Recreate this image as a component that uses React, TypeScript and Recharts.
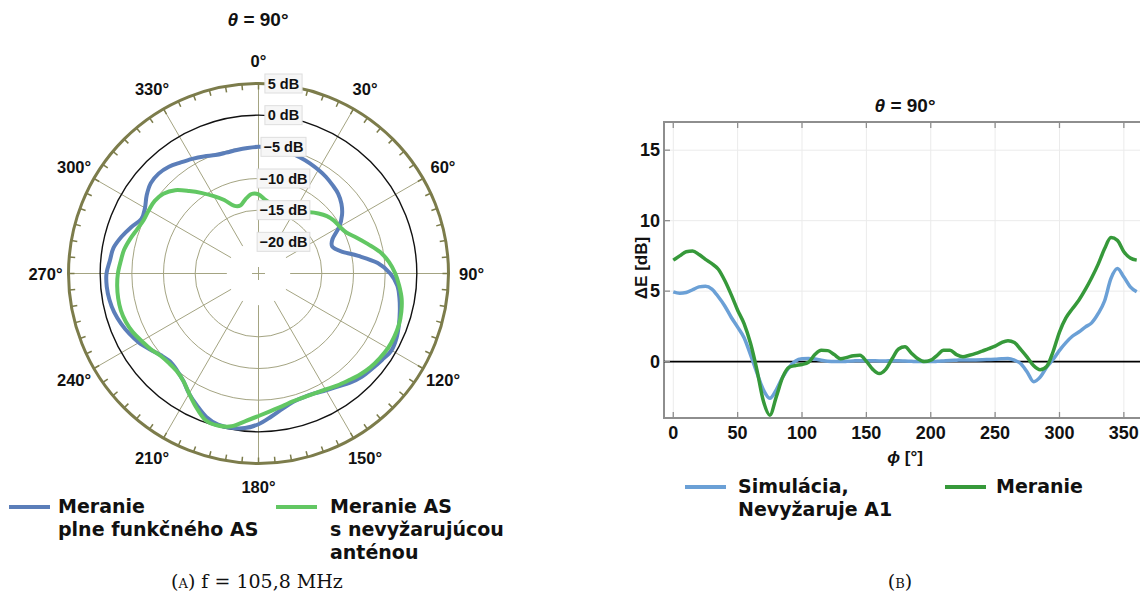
import React from "react";
import {
  RadarChart,
  Radar,
  PolarAngleAxis,
  PolarRadiusAxis,
  Customized,
  LineChart,
  Line,
  XAxis,
  YAxis,
  CartesianGrid,
  ReferenceLine,
  ReferenceArea,
} from "recharts";

// ---- polar chart (A) ----
const ANGLES = [
  0, 5, 10, 15, 20, 25, 30, 35, 40, 45, 50, 55, 60, 65, 70, 75, 80, 85, 90, 95,
  100, 105, 110, 115, 120, 125, 130, 135, 140, 145, 150, 155, 160, 165, 170, 175,
  180, 185, 190, 195, 200, 205, 210, 215, 220, 225, 230, 235, 240, 245, 250, 255,
  260, 265, 270, 275, 280, 285, 290, 295, 300, 305, 310, 315, 320, 325, 330, 335,
  340, 345, 350, 355,
];

// Meranie plne funkčného AS [dB]
const FULL_AS = [
  -5.0, -5.05, -5.15, -5.3, -5.55, -5.8, -6.1, -6.4, -6.8, -7.2,
  -7.9, -8.9, -10.3, -12.1, -12.6, -11.5, -9.0, -6.1, -4.2, -3.0,
  -2.4, -1.9, -1.4, -0.95, -0.75, -1.2, -1.6, -1.95, -2.5, -3.2,
  -3.7, -4.1, -4.2, -4.0, -3.3, -2.3, -1.2, -0.5, -0.25, -0.3,
  -0.9, -2.0, -3.1, -4.3, -5.0, -5.3, -4.9, -4.1, -3.2, -2.5,
  -1.9, -1.4, -1.1, -0.95, -1.0, -1.45, -1.75, -2.6, -3.6, -4.6,
  -4.3, -3.45, -2.8, -2.7, -3.0, -3.6, -4.1, -4.6, -5.1, -5.25,
  -5.2, -5.1,
];

// Meranie AS s nevyžarujúcou anténou [dB]
const NONRAD_AS = [
  -12.5, -13.3, -13.8, -14.15, -14.3, -14.1, -13.8, -13.3, -12.4, -11.6,
  -10.9, -10.45, -10.2, -9.7, -8.5, -7.1, -5.5, -4.3, -3.4, -2.7,
  -2.05, -1.65, -1.4, -1.35, -1.4, -1.65, -1.95, -2.4, -2.95, -3.4,
  -3.85, -4.1, -4.2, -4.1, -3.7, -3.2, -2.5, -1.6, -0.5, -0.15,
  -0.4, -1.7, -3.1, -4.3, -4.9, -5.0, -4.8, -4.2, -3.7, -3.1,
  -2.7, -2.5, -2.5, -2.6, -2.8, -3.15, -3.45, -4.0, -4.6, -5.0,
  -5.0, -5.0, -5.4, -6.4, -8.0, -9.5, -10.9, -12.2, -13.6, -13.9,
  -13.1, -12.4,
];

const DB_TICKS = [-20, -15, -10, -5, 0, 5];

// ---- cartesian chart (B) ----
const PHI = [
  0, 5, 10, 15, 20, 25, 30, 35, 40, 45, 50, 55, 60, 65, 70, 75, 80, 85, 90, 95,
  100, 105, 110, 115, 120, 125, 130, 135, 140, 145, 150, 155, 160, 165, 170, 175,
  180, 185, 190, 195, 200, 205, 210, 215, 220, 225, 230, 235, 240, 245, 250, 255,
  260, 265, 270, 275, 280, 285, 290, 295, 300, 305, 310, 315, 320, 325, 330, 335,
  340, 345, 350, 355, 360,
];

// Simulácia, Nevyžaruje A1
const SIM = [
  4.95, 4.85, 4.9, 5.1, 5.3, 5.35, 5.15, 4.6, 3.95, 3.15,
  2.45, 1.7, 0.5, -0.8, -2.0, -2.6, -2.0, -1.1, -0.4, 0.05,
  0.2, 0.22, 0.18, 0.1, 0.03, 0.0, 0.0, 0.02, 0.05, 0.07,
  0.07, 0.06, 0.05, 0.05, 0.06, 0.06, 0.04, 0.02, 0.0, 0.0,
  0.0, 0.02, 0.05, 0.08, 0.1, 0.12, 0.12, 0.12, 0.13, 0.15,
  0.17, 0.2, 0.22, 0.1, -0.15, -0.75, -1.42, -1.1, -0.4, 0.15,
  0.8, 1.35, 1.8, 2.1, 2.45, 2.75, 3.4, 4.3, 5.9, 6.6,
  6.0, 5.3, 4.95,
];

// Meranie
const MER = [
  7.2, 7.5, 7.8, 7.85, 7.6, 7.25, 6.95, 6.55, 5.75, 4.75,
  3.65, 2.7, 1.3, -0.6, -2.8, -3.8, -2.5, -1.1, -0.4, -0.28,
  -0.2, -0.05, 0.5, 0.8, 0.78, 0.5, 0.2, 0.3, 0.42, 0.45,
  0.02, -0.55, -0.85, -0.55, 0.2, 0.9, 1.05, 0.6, 0.2, 0.0,
  0.1, 0.45, 0.8, 0.8, 0.5, 0.35, 0.45, 0.58, 0.75, 0.92,
  1.1, 1.35, 1.48, 1.35, 0.85, 0.3, -0.3, -0.58, -0.35, 0.7,
  2.1, 3.1, 3.75, 4.35, 5.1, 5.95, 6.9, 8.0, 8.8, 8.6,
  7.8, 7.35, 7.2,
];

const X_TICKS = [0, 50, 100, 150, 200, 250, 300, 350];
const X_MINOR = [
  0, 10, 20, 30, 40, 50, 60, 70, 80, 90, 100, 110, 120, 130, 140, 150, 160, 170,
  180, 190, 200, 210, 220, 230, 240, 250, 260, 270, 280, 290, 300, 310, 320, 330,
  340, 350, 360,
];
const Y_TICKS = [0, 5, 10, 15];
const Y_MINOR = [-4, -3, -2, -1, 0, 1, 2, 3, 4, 5, 6, 7, 8, 9, 10, 11, 12, 13, 14, 15, 16, 17];

const polarData = ANGLES.map((a, i) => ({ angle: a, full: FULL_AS[i], nonrad: NONRAD_AS[i] }));
const lineData = PHI.map((p, i) => ({ phi: p, sim: SIM[i], mer: MER[i] }));

const SANS = "'Liberation Sans', Arial, sans-serif";
const LEGEND_FONT = "'DejaVu Sans', Verdana, sans-serif";
const SERIF = "'DejaVu Serif', 'Liberation Serif', serif";
const OLIVE = "#7c7c4b";
const GRID_OLIVE = "#a4a482";

// polar geometry
const CX = 258.5;
const CY = 273.5;
const R = 190;
const R_MIN = -25;
const R_MAX = 5;
const DEG = Math.PI / 180;
const rOf = (v: number) => ((v - R_MIN) / (R_MAX - R_MIN)) * R;
const pt = (deg: number, r: number) => ({
  x: CX + Math.sin(deg * DEG) * r,
  y: CY - Math.cos(deg * DEG) * r,
});

function PolarFrame() {
  const spokes = [];
  for (let a = 0; a < 360; a += 30) {
    const p1 = pt(a, rOf(-20));
    const p2 = pt(a, R);
    spokes.push(<line key={"s" + a} x1={p1.x} y1={p1.y} x2={p2.x} y2={p2.y} stroke={GRID_OLIVE} strokeWidth={1} />);
  }
  const ticks = [];
  for (let a = 0; a < 360; a += 5) {
    const p1 = pt(a, R - 6);
    const p2 = pt(a, R);
    ticks.push(<line key={"t" + a} x1={p1.x} y1={p1.y} x2={p2.x} y2={p2.y} stroke={OLIVE} strokeWidth={1.5} />);
  }
  return (
    <g>
      {[-15, -10, -5].map((v) => (
        <circle key={v} cx={CX} cy={CY} r={rOf(v)} fill="none" stroke={GRID_OLIVE} strokeWidth={1} />
      ))}
      {spokes}
      <circle cx={CX} cy={CY} r={rOf(0)} fill="none" stroke="#111" strokeWidth={1.4} />
      <circle cx={CX} cy={CY} r={R} fill="none" stroke={OLIVE} strokeWidth={3} />
      {ticks}
      <line x1={CX - 6.5} x2={CX + 6.5} y1={CY} y2={CY} stroke={GRID_OLIVE} strokeWidth={1} />
      <line x1={CX} x2={CX} y1={CY - 6.5} y2={CY + 6.5} stroke={GRID_OLIVE} strokeWidth={1} />
    </g>
  );
}

function AngleTick(props: any) {
  const a = Number(props.payload?.value);
  if (a % 30 !== 0) return <g />;
  const p = pt(a, 213);
  return (
    <text x={p.x} y={p.y} textAnchor="middle" dominantBaseline="central" fontFamily={SANS} fontWeight="bold" fontSize={16.5} fill="#111">
      {a}°
    </text>
  );
}

function DbTick(props: any) {
  const v = Number(props.payload?.value);
  const label = (v < 0 ? "\u2212" + Math.abs(v) : String(v)) + " dB";
  const y = CY - rOf(v);
  const w = label.length * 7.8 + 6;
  const xc = CX + 25;
  return (
    <g>
      <rect x={xc - w / 2} y={y - 9.5} width={w} height={19} fill="#f6f6f6" stroke="#dedede" strokeWidth={1} />
      <text x={xc} y={y} textAnchor="middle" dominantBaseline="central" fontFamily={SANS} fontWeight="bold" fontSize={14.5} fill="#111">
        {label}
      </text>
    </g>
  );
}

// closed Catmull-Rom path through the radar points
function SmoothRadar(props: any) {
  const p = props.points || [];
  const n = p.length;
  if (!n) return <g />;
  let d = `M${p[0].x},${p[0].y}`;
  for (let i = 0; i < n; i++) {
    const p0 = p[(i - 1 + n) % n];
    const p1 = p[i];
    const p2 = p[(i + 1) % n];
    const p3 = p[(i + 2) % n];
    const c1x = p1.x + (p2.x - p0.x) / 6;
    const c1y = p1.y + (p2.y - p0.y) / 6;
    const c2x = p2.x - (p3.x - p1.x) / 6;
    const c2y = p2.y - (p3.y - p1.y) / 6;
    d += ` C${c1x},${c1y} ${c2x},${c2y} ${p2.x},${p2.y}`;
  }
  d += " Z";
  return <path d={d} fill="none" stroke={props.stroke} strokeWidth={props.strokeWidth} strokeLinejoin="round" />;
}

// cartesian layout (chart-local px)
const PL = 64;
const PT = 32;
const PB = 328;
const FRAME = "#8e8e8e";

function XTick(props: any) {
  const { x, payload } = props;
  return (
    <g>
      <line x1={x} x2={x} y1={PB} y2={PB - 6} stroke={FRAME} strokeWidth={1.3} />
      <line x1={x} x2={x} y1={PT} y2={PT + 6} stroke={FRAME} strokeWidth={1.3} />
      <text x={x} y={PB + 21} textAnchor="middle" fontFamily={SANS} fontWeight="bold" fontSize={18} fill="#111">
        {payload.value}
      </text>
    </g>
  );
}

function XMinorTick(props: any) {
  const { x } = props;
  return (
    <g>
      <line x1={x} x2={x} y1={PB} y2={PB - 3.5} stroke={FRAME} strokeWidth={1.1} />
      <line x1={x} x2={x} y1={PT} y2={PT + 3.5} stroke={FRAME} strokeWidth={1.1} />
    </g>
  );
}

function YTick(props: any) {
  const { y, payload } = props;
  return (
    <g>
      <line x1={PL} x2={PL + 6} y1={y} y2={y} stroke={FRAME} strokeWidth={1.3} />
      <text x={PL - 4} y={y} textAnchor="end" dominantBaseline="central" fontFamily={SANS} fontWeight="bold" fontSize={18} fill="#111">
        {payload.value}
      </text>
    </g>
  );
}

function YMinorTick(props: any) {
  const { y } = props;
  return <line x1={PL} x2={PL + 3.5} y1={y} y2={y} stroke={FRAME} strokeWidth={1.1} />;
}

const abs = (left: number, top: number): React.CSSProperties => ({ position: "absolute", left, top });

function LegendLine({ x, y, color }: { x: number; y: number; color: string }) {
  return <div style={{ ...abs(x, y - 2), width: 41, height: 4, background: color }} />;
}

const legendText: React.CSSProperties = {
  fontFamily: LEGEND_FONT,
  fontWeight: "bold",
  fontSize: 19,
  lineHeight: "23px",
  color: "#111",
  whiteSpace: "nowrap",
};

export default function App() {
  return (
    <div style={{ position: "absolute", left: 0, top: 0, width: 1140, height: 597, overflow: "hidden", background: "#fff" }}>
      {/* titles */}
      <div style={{ ...abs(158, 9), width: 200, textAlign: "center", fontFamily: SANS, fontWeight: "bold", fontSize: 19, color: "#111" }}>
        <i>θ</i> = 90°
      </div>
      <div style={{ ...abs(805, 95), width: 200, textAlign: "center", fontFamily: SANS, fontWeight: "bold", fontSize: 19, color: "#111" }}>
        <i>θ</i> = 90°
      </div>

      {/* (A) polar */}
      <div style={abs(0, 0)}>
        <RadarChart width={540} height={520} data={polarData} cx={CX} cy={CY} outerRadius={R} innerRadius={0} startAngle={90} endAngle={-270}>
          <Customized component={<PolarFrame />} />
          <PolarAngleAxis dataKey="angle" axisLine={false} tickLine={false} tick={AngleTick} />
          <PolarRadiusAxis angle={90} type="number" domain={[R_MIN, R_MAX]} ticks={DB_TICKS} axisLine={false} tickLine={false} tick={DbTick} />
          <Radar dataKey="full" stroke="#5b7eb9" strokeWidth={4} fill="none" dot={false} shape={SmoothRadar} isAnimationActive={false} />
          <Radar dataKey="nonrad" stroke="#62c763" strokeWidth={4} fill="none" dot={false} shape={SmoothRadar} isAnimationActive={false} />
        </RadarChart>
      </div>

      {/* (B) cartesian */}
      <div style={abs(600, 90)}>
        <LineChart width={560} height={400} data={lineData} margin={{ top: PT, right: 14, left: 0, bottom: 0 }}>
          <CartesianGrid stroke="#ebebeb" strokeWidth={1} />
          <XAxis dataKey="phi" type="number" domain={[-7.2, 367.2]} ticks={X_TICKS} interval={0} height={72} axisLine={false} tickLine={false} tick={XTick} allowDataOverflow />
          <XAxis xAxisId="m" dataKey="phi" type="number" orientation="top" domain={[-7.2, 367.2]} ticks={X_MINOR} interval={0} height={0} axisLine={false} tickLine={false} tick={XMinorTick} allowDataOverflow />
          <YAxis type="number" domain={[-4, 17]} ticks={Y_TICKS} interval={0} width={PL} axisLine={false} tickLine={false} tick={YTick} allowDataOverflow />
          <YAxis yAxisId="m" type="number" orientation="right" domain={[-4, 17]} ticks={Y_MINOR} interval={0} width={0} axisLine={false} tickLine={false} tick={YMinorTick} allowDataOverflow />
          <ReferenceLine y={0} stroke="#000" strokeWidth={1.6} />
          <Line type="monotone" dataKey="sim" stroke="#6ba0d6" strokeWidth={3.5} dot={false} isAnimationActive={false} />
          <Line type="monotone" dataKey="mer" stroke="#36993a" strokeWidth={3.5} dot={false} isAnimationActive={false} />
          <ReferenceArea x1={-7.2} x2={367.2} y1={-4} y2={17} fill="none" stroke={FRAME} strokeWidth={2} ifOverflow="visible" />
        </LineChart>
      </div>
      <div style={{ ...abs(602, 256), width: 84, height: 24, transform: "rotate(-90deg)", transformOrigin: "center", textAlign: "center", fontFamily: SANS, fontWeight: "bold", fontSize: 17, color: "#111", whiteSpace: "nowrap" }}>
        ΔE [dB]
      </div>
      <div style={{ ...abs(855, 448), width: 100, textAlign: "center", fontFamily: SANS, fontWeight: "bold", fontSize: 17, color: "#111" }}>
        <i>ϕ</i> [°]
      </div>

      {/* legends */}
      <LegendLine x={9} y={507} color="#5b7eb9" />
      <div style={{ ...abs(58, 495), ...legendText }}>
        Meranie
        <br />
        plne funkčného AS
      </div>
      <LegendLine x={276} y={507} color="#62c763" />
      <div style={{ ...abs(330, 495), ...legendText }}>
        Meranie AS
        <br />
        s nevyžarujúcou
        <br />
        anténou
      </div>
      <LegendLine x={685} y={487} color="#6ba0d6" />
      <div style={{ ...abs(738, 475), ...legendText }}>
        Simulácia,
        <br />
        Nevyžaruje A1
      </div>
      <LegendLine x={945} y={487} color="#36993a" />
      <div style={{ ...abs(996, 475), ...legendText }}>
        Meranie
      </div>

      {/* captions */}
      <div style={{ ...abs(107, 570), width: 300, textAlign: "center", fontFamily: SERIF, fontSize: 19, color: "#111" }}>
        (<span style={{ fontVariant: "small-caps" }}>a</span>) f = 105,8 MHz
      </div>
      <div style={{ ...abs(850, 570), width: 100, textAlign: "center", fontFamily: SERIF, fontSize: 19, color: "#111" }}>
        (<span style={{ fontVariant: "small-caps" }}>b</span>)
      </div>
    </div>
  );
}
